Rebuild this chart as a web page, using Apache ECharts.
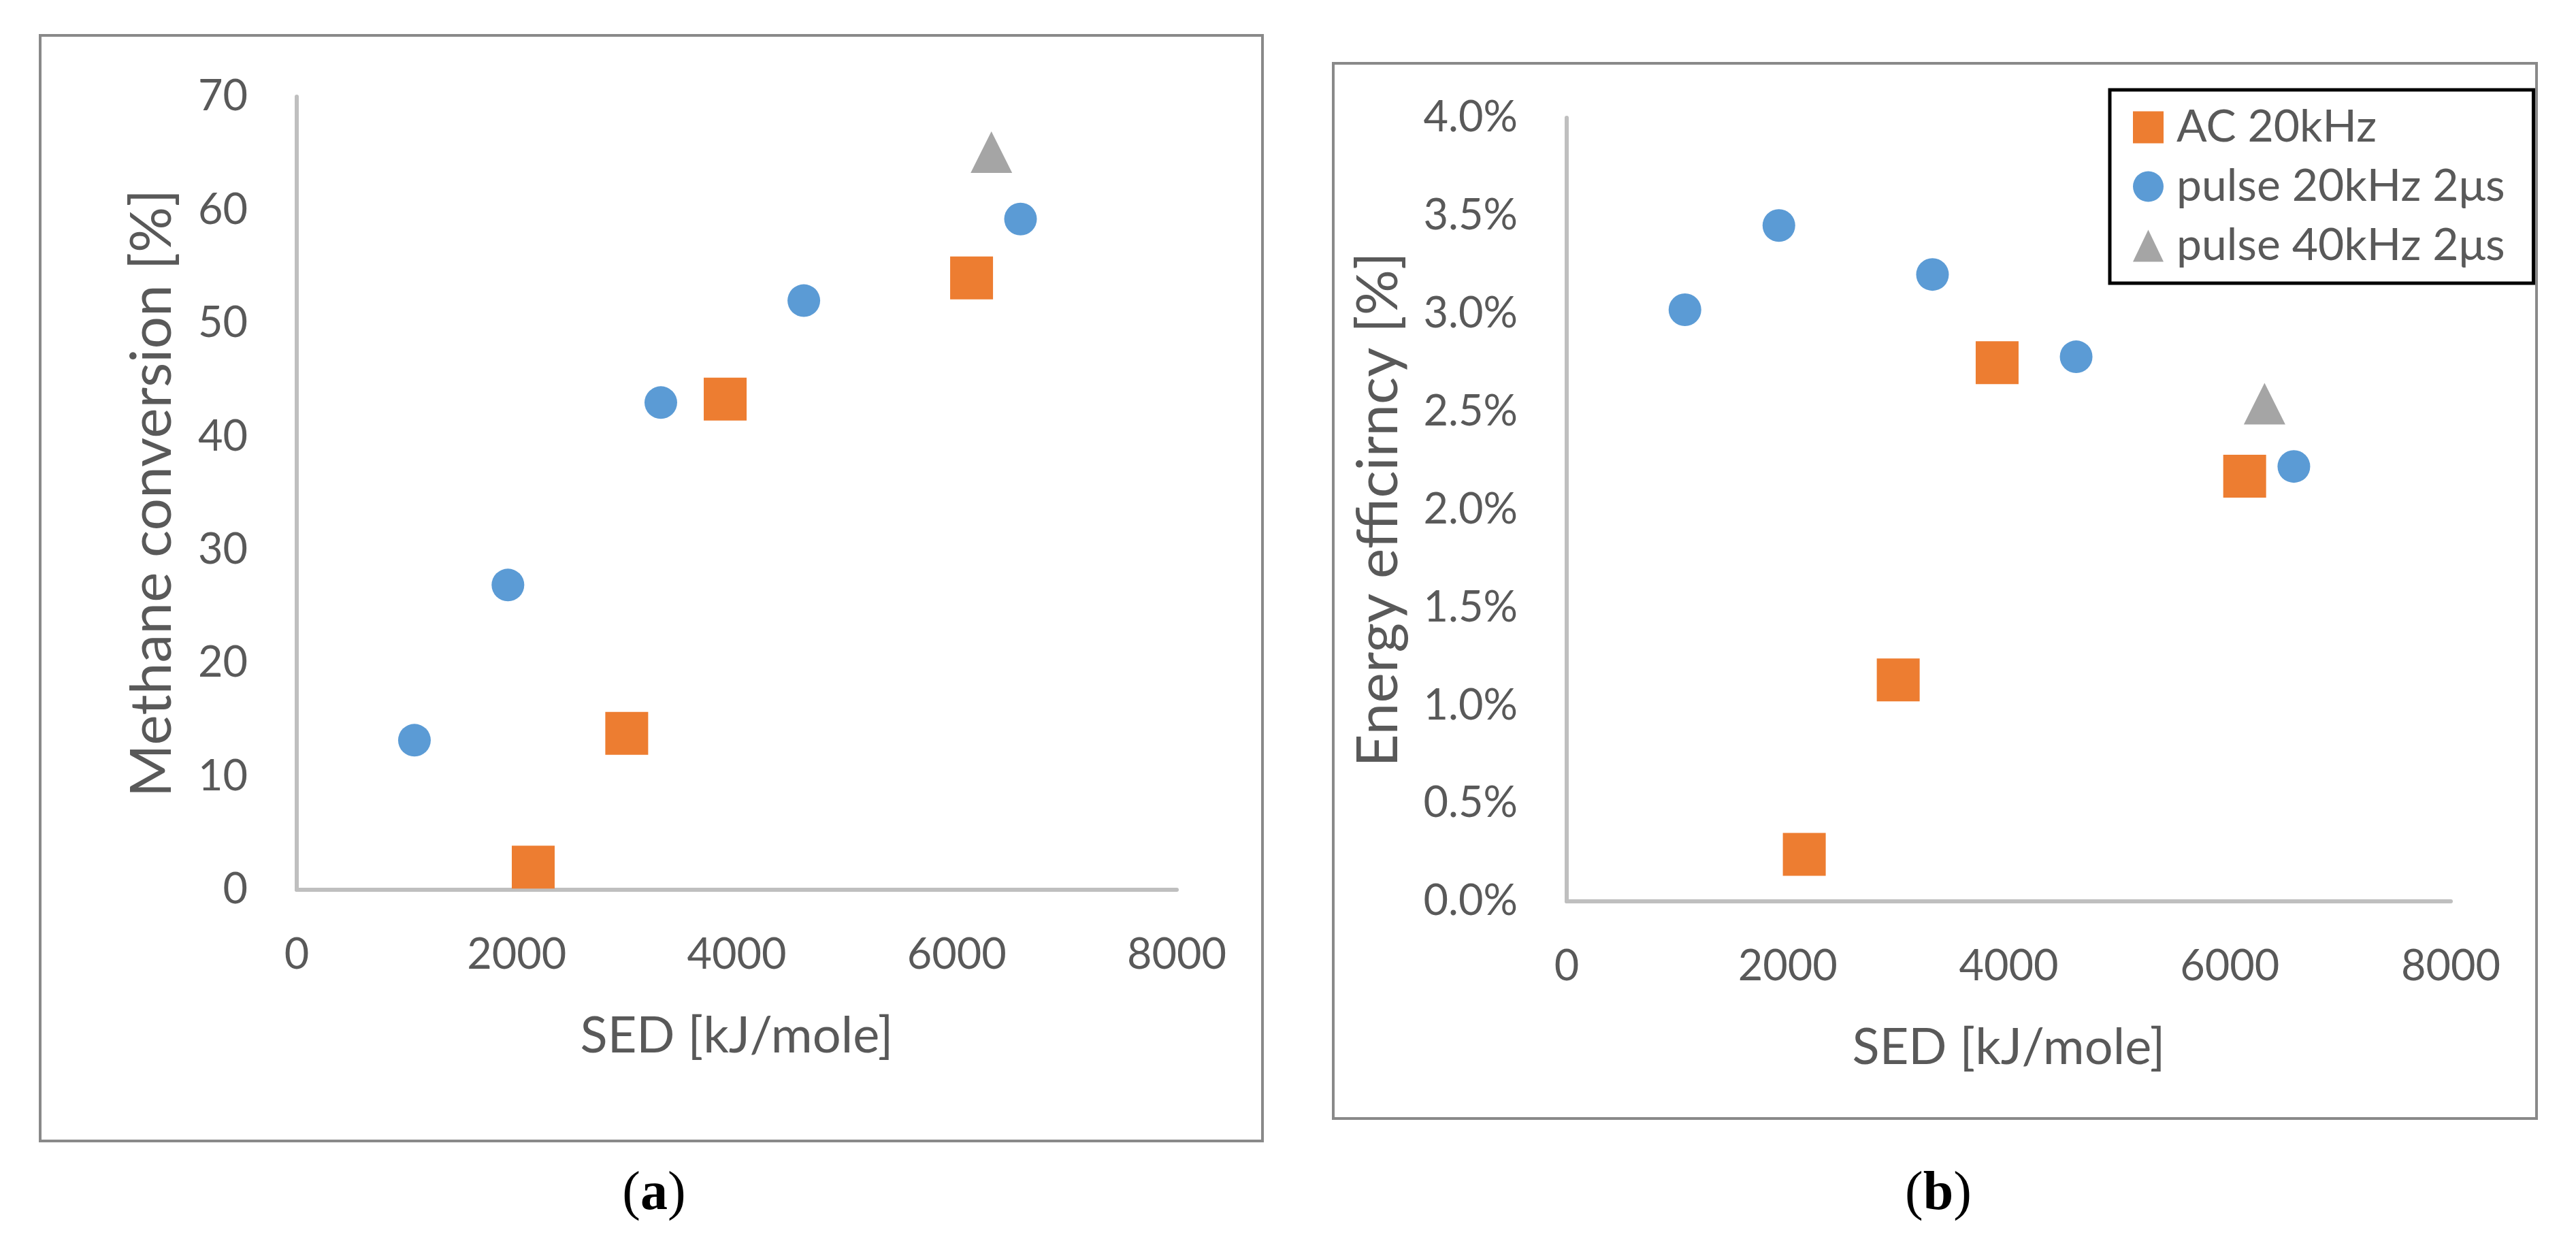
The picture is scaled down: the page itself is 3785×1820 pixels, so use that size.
<!DOCTYPE html>
<html><head><meta charset="utf-8">
<script src="https://cdn.jsdelivr.net/npm/echarts@6/dist/echarts.min.js"></script>
<style>html,body{margin:0;padding:0;background:#fff}#c{width:3785px;height:1820px}</style>
</head><body><div id="c"></div>
<script>
// ---- data ----
const seriesNames = ['AC 20kHz', 'pulse 20kHz 2μs', 'pulse 40kHz 2μs'];
const acSED   = [2150, 3000, 3895, 6135];
const acConv  = [2.0, 13.8, 43.3, 54.0];
const acEff   = [0.24, 1.13, 2.75, 2.17];
const p20SED  = [1070, 1920, 3310, 4610, 6580];
const p20Conv = [13.2, 26.9, 43.0, 52.0, 59.2];
const p20Eff  = [3.02, 3.45, 3.20, 2.78, 2.22];
const p40SED  = [6315];
const p40Conv = [65.1];
const p40Eff  = [2.54];
const xTitle = 'SED [kJ/mole]';
const yTitleA = 'Methane conversion [%]';
const yTitleB = 'Energy efficirncy [%]';
const panelLabels = ['a', 'b'];

const zip = (xs, ys) => xs.map((x, i) => [x, ys[i]]);
const FONT = 'Lato';
const TXT = '#595959';
const AXC = '#bfbfbf';
const colors = ['#ED7D31', '#5B9BD5', '#A5A5A5'];
const symbols = ['rect', 'circle', 'triangle'];
const sizes = [63, 48, 61];

function xAxisCfg(gi) {
  return {
    type: 'value', gridIndex: gi, min: 0, max: 8000, interval: 2000,
    name: xTitle, nameLocation: 'middle', nameGap: 178,
    nameTextStyle: {fontFamily: FONT, fontSize: 74, color: TXT},
    axisLine: {show: true, onZero: false, lineStyle: {color: AXC, width: 6}},
    axisTick: {show: false}, splitLine: {show: false},
    axisLabel: {fontFamily: FONT, fontSize: 63, color: TXT, margin: 64, formatter: v => String(v)}
  };
}
function yAxisCfg(gi, max, interval, name, gap, fmt) {
  return {
    type: 'value', gridIndex: gi, min: 0, max: max, interval: interval,
    name: name, nameLocation: 'middle', nameGap: gap, nameRotate: 90,
    nameTextStyle: {fontFamily: FONT, fontSize: 84, color: TXT},
    axisLine: {show: true, onZero: false, lineStyle: {color: AXC, width: 6}},
    axisTick: {show: false}, splitLine: {show: false},
    axisLabel: {fontFamily: FONT, fontSize: 63, color: TXT, margin: 72, formatter: fmt}
  };
}
function sc(i, gi, data) {
  return {
    type: 'scatter', name: seriesNames[i], xAxisIndex: gi, yAxisIndex: gi,
    data: data, symbol: symbols[i], symbolSize: sizes[i],
    itemStyle: {color: colors[i], opacity: 1}, emphasis: {disabled: true}
  };
}

const chart = echarts.init(document.getElementById('c'), null, {renderer: 'canvas'});
chart.setOption({
  backgroundColor: '#ffffff',
  animation: false,
  grid: [
    {left: 436, top: 142, width: 1293, height: 1165},
    {left: 2302, top: 173, width: 1299, height: 1151}
  ],
  xAxis: [xAxisCfg(0), xAxisCfg(1)],
  yAxis: [
    yAxisCfg(0, 70, 10, yTitleA, 170, v => String(v)),
    yAxisCfg(1, 4, 0.5, yTitleB, 234, v => v.toFixed(1) + '%')
  ],
  legend: {
    orient: 'vertical', left: 3100, top: 132,
    data: seriesNames,
    itemWidth: 45, itemHeight: 47, itemGap: 21,
    padding: [22, 42, 22, 34],
    borderColor: '#000000', borderWidth: 5, backgroundColor: '#ffffff',
    selectedMode: false,
    textStyle: {fontFamily: FONT, fontSize: 66, lineHeight: 47, color: TXT, padding: [0, 0, 0, 14]}
  },
  series: [
    sc(0, 0, zip(acSED, acConv)),
    sc(1, 0, zip(p20SED, p20Conv)),
    sc(2, 0, zip(p40SED, p40Conv)),
    sc(0, 1, zip(acSED, acEff)),
    sc(1, 1, zip(p20SED, p20Eff)),
    sc(2, 1, zip(p40SED, p40Eff))
  ],
  graphic: [
    {type: 'rect', z: -10, silent: true, shape: {x: 59, y: 52, width: 1796, height: 1624},
     style: {fill: 'none', stroke: '#898989', lineWidth: 4}},
    {type: 'rect', z: -10, silent: true, shape: {x: 1959, y: 93, width: 1768, height: 1550},
     style: {fill: 'none', stroke: '#898989', lineWidth: 4}},
    {type: 'text', x: 961, y: 1755, silent: true,
     style: {text: '{p|(}{b|' + panelLabels[0] + '}{p|)}', align: 'center', verticalAlign: 'middle',
       rich: {p: {fontFamily: 'Liberation Serif', fontSize: 80, fill: '#000'},
              b: {fontFamily: 'Liberation Serif', fontSize: 80, fontWeight: 'bold', fill: '#000'}}}},
    {type: 'text', x: 2848, y: 1755, silent: true,
     style: {text: '{p|(}{b|' + panelLabels[1] + '}{p|)}', align: 'center', verticalAlign: 'middle',
       rich: {p: {fontFamily: 'Liberation Serif', fontSize: 80, fill: '#000'},
              b: {fontFamily: 'Liberation Serif', fontSize: 80, fontWeight: 'bold', fill: '#000'}}}}
  ]
});
</script></body></html>
